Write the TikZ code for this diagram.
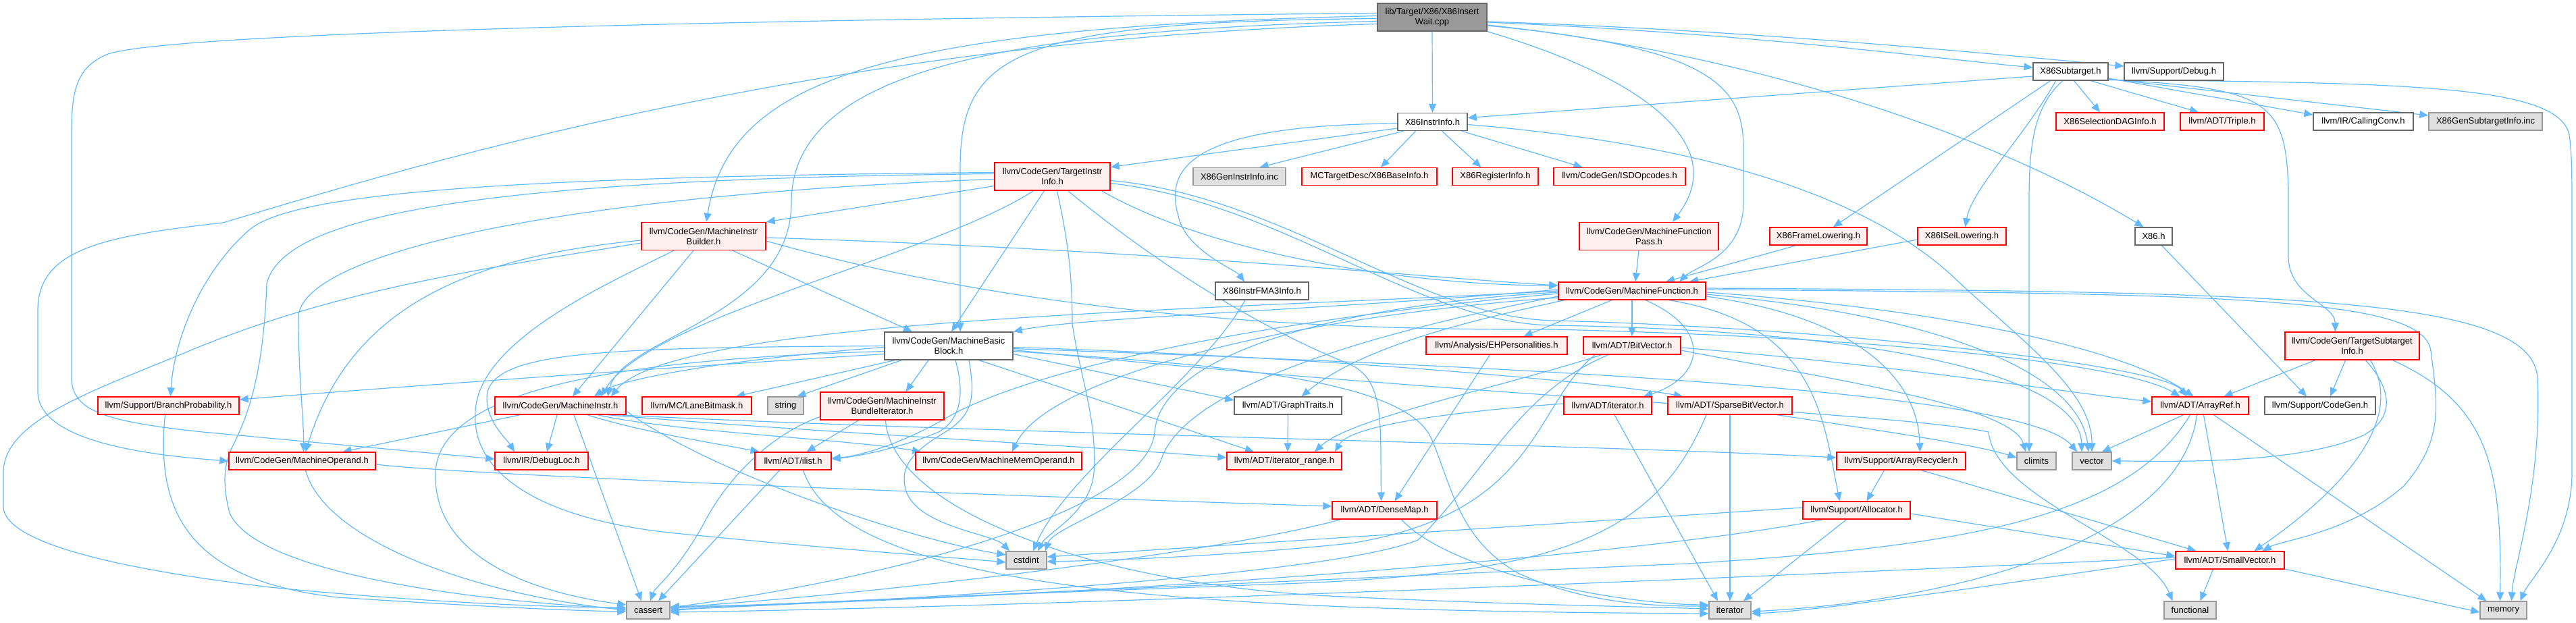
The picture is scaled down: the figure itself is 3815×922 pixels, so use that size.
\documentclass[tikz,border=0pt]{standalone}
\usepackage{fontspec}
\setmainfont{Liberation Sans}
\usetikzlibrary{arrows.meta}
\pgfdeclarelayer{bg}
\pgfsetlayers{bg,main}
\definecolor{edgeblue}{HTML}{63B8FF}
\definecolor{redborder}{HTML}{FF0000}
\definecolor{redfill}{HTML}{FFF0F0}
\definecolor{grayborder}{HTML}{999999}
\definecolor{grayfill}{HTML}{E0E0E0}
\definecolor{darkborder}{HTML}{666666}
\definecolor{rootfill}{HTML}{999999}
\tikzset{
  nd/.style={rectangle, minimum height=26pt, inner sep=0pt, align=center, font=\fontsize{13}{15}\selectfont, line width=1.4pt},
  two/.style={minimum height=41pt},
  bw/.style={minimum width=#1pt},
  nred/.style={nd, draw=redborder, fill=redfill},
  nwhite/.style={nd, draw=darkborder, fill=white},
  ngray/.style={nd, draw=grayborder, fill=grayfill},
  nroot/.style={nd, draw=darkborder, fill=rootfill},
  ed/.style={draw=edgeblue, line width=1.2pt, -{Triangle[length=13pt,width=11pt]}}
}
\begin{document}
\begin{tikzpicture}[x=1pt,y=1pt]
\useasboundingbox (0,0) rectangle (3815,-922);
% ---------------- nodes ----------------
\node[nroot,bw=162,two] (root) at (2121,-25.5) {lib/Target/X86/X86Insert\\Wait.cpp};
\node[nwhite,bw=111] (sub) at (3066.5,-106) {X86Subtarget.h};
\node[nwhite,bw=147] (dbg) at (3219.5,-106) {llvm/Support/Debug.h};
\node[nwhite,bw=103] (ii) at (2121.5,-180.5) {X86InstrInfo.h};
\node[nred,bw=171,two] (tii) at (1558.5,-261.5) {llvm/CodeGen/TargetInstr\\Info.h};
\node[ngray,bw=137] (geninc) at (1835.5,-261.5) {X86GenInstrInfo.inc};
\node[nred,bw=200] (base) at (2028,-261.5) {MCTargetDesc/X86BaseInfo.h};
\node[nred,bw=127] (reg) at (2214.5,-261.5) {X86RegisterInfo.h};
\node[nred,bw=195] (isd) at (2398.5,-261.5) {llvm/CodeGen/ISDOpcodes.h};
\node[nred,bw=160] (seldag) at (3125,-180) {X86SelectionDAGInfo.h};
\node[nred,bw=124] (triple) at (3291,-180) {llvm/ADT/Triple.h};
\node[nwhite,bw=148] (cc) at (3500,-180) {llvm/IR/CallingConv.h};
\node[ngray,bw=168] (gensub) at (3681,-180) {X86GenSubtargetInfo.inc};
\node[nred,bw=184,two] (mib) at (1042,-350) {llvm/CodeGen/MachineInstr\\Builder.h};
\node[nred,bw=206,two] (mfp) at (2442,-350) {llvm/CodeGen/MachineFunction\\Pass.h};
\node[nred,bw=144] (fl) at (2693,-350) {X86FrameLowering.h};
\node[nred,bw=131] (isel) at (2905.5,-350) {X86ISelLowering.h};
\node[nwhite,bw=55] (x86) at (3189.5,-350) {X86.h};
\node[nwhite,bw=138] (fma) at (1869,-431) {X86InstrFMA3Info.h};
\node[nred,bw=218] (mf) at (2417,-431) {llvm/CodeGen/MachineFunction.h};
\node[nwhite,bw=190,two] (mbb) at (1405,-512.5) {llvm/CodeGen/MachineBasic\\Block.h};
\node[nred,bw=209] (eh) at (2216.5,-512) {llvm/Analysis/EHPersonalities.h};
\node[nred,bw=144] (bv) at (2417,-512) {llvm/ADT/BitVector.h};
\node[nred,bw=199,two] (tsi) at (3483.5,-512.5) {llvm/CodeGen/TargetSubtarget\\Info.h};
\node[nred,bw=209] (bp) at (249.5,-601) {llvm/Support/BranchProbability.h};
\node[nred,bw=194] (mi) at (830,-601) {llvm/CodeGen/MachineInstr.h};
\node[nred,bw=162] (lane) at (1032,-601) {llvm/MC/LaneBitmask.h};
\node[ngray,bw=53] (str) at (1163.5,-601) {string};
\node[nred,bw=183,two] (mibi) at (1306.5,-601.5) {llvm/CodeGen/MachineInstr\\BundleIterator.h};
\node[nwhite,bw=159] (gt) at (1907.5,-601) {llvm/ADT/GraphTraits.h};
\node[nred,bw=130] (iterh) at (2381,-601) {llvm/ADT/iterator.h};
\node[nred,bw=184] (sbv) at (2562,-601) {llvm/ADT/SparseBitVector.h};
\node[nred,bw=143] (ar) at (3258.5,-601) {llvm/ADT/ArrayRef.h};
\node[nwhite,bw=164] (cg) at (3436,-601) {llvm/Support/CodeGen.h};
\node[nred,bw=217] (mo) at (447.5,-683) {llvm/CodeGen/MachineOperand.h};
\node[nred,bw=138] (dl) at (802,-683) {llvm/IR/DebugLoc.h};
\node[nred,bw=113] (ilist) at (1174.5,-683) {llvm/ADT/ilist.h};
\node[nred,bw=246] (mmo) at (1479,-683) {llvm/CodeGen/MachineMemOperand.h};
\node[nred,bw=170] (ir) at (1902,-683) {llvm/ADT/iterator\_range.h};
\node[nred,bw=191] (arec) at (2815.5,-683) {llvm/Support/ArrayRecycler.h};
\node[ngray,bw=58] (climits) at (3016,-683) {climits};
\node[ngray,bw=58] (vector) at (3098,-683) {vector};
\node[nred,bw=155] (dm) at (2050.5,-756) {llvm/ADT/DenseMap.h};
\node[nred,bw=159] (alloc) at (2749.5,-756) {llvm/Support/Allocator.h};
\node[ngray,bw=60] (cstdint) at (1520,-830) {cstdint};
\node[nred,bw=161] (sv) at (3302.5,-830) {llvm/ADT/SmallVector.h};
\node[ngray,bw=64] (cassert) at (960,-904) {cassert};
\node[ngray,bw=62] (iterator) at (2562,-904) {iterator};
\node[ngray,bw=77] (functional) at (3243.5,-904) {functional};
\node[ngray,bw=69] (memory) at (3707.5,-904) {memory};
% ---------------- edges ----------------
\begin{pgfonlayer}{bg}
% root
\draw[ed] (root.south) -- (ii.north);
\draw[ed] ([yshift=-2pt]root.west) .. controls (1500,-32) and (1422,-80) .. (1422,-250) -- ([xshift=17pt]mbb.north);
\draw[ed] ([yshift=-6pt]root.west) .. controls (1500,-45) and (1172,-100) .. (1172,-300) .. controls (1172,-470) and (920,-500) .. ([xshift=70pt]mi.north);
\draw[ed] ([yshift=2pt]root.west) .. controls (1300,-40) and (1080,-120) .. ([xshift=4pt]mib.north);
\draw[ed] ([yshift=-10pt]root.west) .. controls (1200,-60) and (600,-250) .. (330,-330) .. controls (150,-350) and (56,-370) .. (56,-460) -- (56,-580) .. controls (56,-650) and (200,-673) .. (mo.west);
\draw[ed] ([yshift=6pt]root.west) .. controls (1000,-30) and (250,-50) .. (160,-80) .. controls (110,-100) and (106,-140) .. (106,-200) -- (106,-560) .. controls (106,-610) and (160,-625) .. (300,-640) -- ([yshift=3pt]dl.west);
\draw[ed] ([yshift=-6.5pt]root.east) .. controls (2600,-45) and (2950,-80) .. ([yshift=8pt]dbg.west);
\draw[ed] ([yshift=-7.5pt]root.east) .. controls (2600,-50) and (2850,-85) .. ([yshift=6pt]sub.west);
\draw[ed] ([yshift=-11.5pt]root.east) .. controls (2600,-80) and (2950,-200) .. ([xshift=-15pt]x86.north);
\draw[ed] ([yshift=-12.5pt]root.east) .. controls (2540,-70) and (2582,-130) .. (2582,-220) -- (2582,-300) .. controls (2582,-380) and (2510,-395) .. ([xshift=70pt]mf.north);
\draw[ed] (root.south east) .. controls (2450,-120) and (2560,-220) .. ([xshift=35pt]mfp.north);
% X86InstrInfo
\draw[ed] ([yshift=-9.5pt]ii.west) -- ([yshift=14pt]tii.east);
\draw[ed] ([xshift=-43pt]ii.south) -- ([xshift=30pt]geninc.north);
\draw[ed] ([yshift=-2.5pt]ii.west) .. controls (1760,-185) and (1725,-250) .. (1745,-320) .. controls (1755,-370) and (1830,-400) .. ([xshift=-26pt]fma.north);
\draw[ed] ([xshift=-25pt]ii.south) -- ([xshift=17pt]base.north);
\draw[ed] ([xshift=14pt]ii.south) -- ([xshift=-21pt]reg.north);
\draw[ed] ([xshift=43pt]ii.south) -- ([xshift=-55pt]isd.north);
\draw[ed] ([yshift=-4pt]ii.east) .. controls (2600,-220) and (2800,-320) .. (2900,-417) .. controls (3000,-510) and (3098,-580) .. (vector.north);
% X86Subtarget
\draw[ed] ([yshift=-7pt]sub.west) -- ([yshift=6pt]ii.east);
\draw[ed] ([xshift=-30pt]sub.south) -- ([xshift=22pt]fl.north);
\draw[ed] ([xshift=-22pt]sub.south) .. controls (3000,-200) and (2920,-280) .. ([xshift=5pt]isel.north);
\draw[ed] ([xshift=-12pt]sub.south) .. controls (3010,-160) and (3005,-220) .. (3005,-300) -- ([xshift=-11pt]climits.north);
\draw[ed] ([xshift=5pt]sub.south) -- ([xshift=-15pt]seldag.north);
\draw[ed] ([xshift=30pt]sub.south) -- ([xshift=-35pt]triple.north);
\draw[ed] ([yshift=-10pt]sub.east) -- ([yshift=10pt]cc.west);
\draw[ed] ([yshift=-11pt]sub.east) -- ([yshift=9pt]gensub.west);
\draw[ed] ([yshift=-12pt]sub.east) .. controls (3360,-130) and (3385,-150) .. (3389,-280) -- (3389,-380) .. controls (3389,-440) and (3458,-450) .. ([xshift=-25pt]tsi.north);
\draw[ed] ([yshift=-12.5pt]sub.east) .. controls (3600,-122) and (3790,-130) .. (3805,-200) .. controls (3809,-230) and (3809,-260) .. (3809,-320) -- (3809,-700) .. controls (3809,-800) and (3745,-860) .. ([xshift=25pt]memory.north);
% TargetInstrInfo
\draw[ed] ([yshift=-14pt]tii.west) -- (mib.north east);
\draw[ed] ([yshift=6pt]tii.west) .. controls (700,-262) and (430,-290) .. (370,-340) .. controls (300,-400) and (258,-500) .. ([xshift=3pt]bp.north);
\draw[ed] ([yshift=4pt]tii.west) .. controls (700,-265) and (420,-320) .. (395,-420) .. controls (390,-560) and (365,-620) .. (345,-660) .. controls (330,-690) and (330,-720) .. (340,-760) .. controls (380,-850) and (700,-890) .. ([yshift=2pt]cassert.west);
\draw[ed] ([yshift=-4pt]tii.west) .. controls (800,-290) and (444,-380) .. (442,-470) .. controls (442,-560) and (450,-620) .. ([xshift=2pt]mo.north);
\draw[ed] ([xshift=-28pt]tii.south) .. controls (1380,-380) and (960,-470) .. ([xshift=60pt]mi.north);
\draw[ed] ([xshift=-12pt]tii.south) -- ([xshift=4pt]mbb.north);
\draw[ed] ([xshift=7pt]tii.south) .. controls (1580,-350) and (1588,-400) .. (1588,-480) .. controls (1600,-560) and (1625,-620) .. (1620,-700) .. controls (1615,-760) and (1550,-790) .. ([xshift=17pt]cstdint.north);
\draw[ed] ([xshift=23pt]tii.south) .. controls (1700,-380) and (1850,-480) .. (2000,-540) .. controls (2040,-560) and (2045,-600) .. (2045,-680) -- ([xshift=-5pt]dm.north);
\draw[ed] ([xshift=73pt]tii.south) .. controls (1800,-380) and (2100,-423) .. ([yshift=8pt]mf.west);
\draw[ed] ([yshift=-6pt]tii.east) .. controls (1900,-290) and (2100,-470) .. (2300,-475) .. controls (2700,-485) and (3200,-540) .. ([xshift=-20pt]ar.north);
\draw[ed] ([yshift=-10pt]tii.east) .. controls (1900,-300) and (2100,-480) .. (2300,-482) .. controls (2800,-490) and (3080,-560) .. ([xshift=-15pt]vector.north);
% MachineInstrBuilder
\draw[ed] ([yshift=-6pt]mib.west) .. controls (700,-380) and (520,-450) .. ([xshift=5pt]mo.north);
\draw[ed] ([yshift=-10pt]mib.west) .. controls (700,-400) and (500,-430) .. (287,-517) .. controls (150,-575) and (5,-620) .. (5,-700) -- (5,-750) .. controls (5,-800) and (150,-840) .. (400,-870) .. controls (600,-890) and (800,-900) .. ([yshift=4pt]cassert.west);
\draw[ed] ([xshift=-15pt]mib.south) -- ([xshift=18pt]mi.north);
\draw[ed] ([xshift=-44pt]mib.south) .. controls (900,-420) and (720,-500) .. (705,-600) .. controls (690,-700) and (800,-770) .. (1000,-790) .. controls (1250,-815) and (1400,-825) .. ([yshift=-3pt]cstdint.west);
\draw[ed] ([xshift=43pt]mib.south) -- ([xshift=-54pt]mbb.north);
\draw[ed] ([yshift=-2pt]mib.east) .. controls (1700,-370) and (2100,-410) .. ([yshift=8pt]mf.west);
\draw[ed] ([yshift=-7pt]mib.east) .. controls (1500,-460) and (1900,-490) .. (2300,-488) .. controls (2800,-500) and (3150,-540) .. ([xshift=-30pt]ar.north);
% single ones
\draw[ed] ([xshift=-15pt]mfp.south) -- ([xshift=5pt]mf.north);
\draw[ed] ([xshift=-33pt]fl.south) -- ([xshift=50pt]mf.north);
\draw[ed] ([yshift=-5pt]isel.west) -- ([xshift=85pt]mf.north);
\draw[ed] ([xshift=12pt]x86.south) -- ([xshift=-20pt]cg.north);
\draw[ed] ([xshift=-25pt]fma.south) .. controls (1780,-560) and (1580,-700) .. ([xshift=10pt]cstdint.north);
% MachineFunction
\draw[ed] ([yshift=2pt]mf.west) .. controls (1950,-460) and (1600,-470) .. (mbb.north east);
\draw[ed] (mf.west) .. controls (1800,-460) and (1000,-470) .. ([xshift=75pt]mi.north);
\draw[ed] ([yshift=-2pt]mf.west) .. controls (2000,-450) and (1720,-520) .. (1710,-640) .. controls (1700,-760) and (1300,-860) .. ([yshift=4pt]cassert.east);
\draw[ed] ([yshift=-4pt]mf.west) .. controls (1800,-480) and (1500,-560) .. (1400,-620) .. controls (1330,-660) and (1270,-676) .. ([yshift=4pt]ilist.east);
\draw[ed] ([yshift=-10pt]mf.west) .. controls (1900,-470) and (1550,-560) .. ([xshift=20pt]mmo.north);
\draw[ed] ([xshift=-100pt]mf.south) .. controls (2200,-470) and (2020,-510) .. ([xshift=20pt]gt.north);
\draw[ed] ([yshift=-8pt]mf.west) .. controls (2100,-480) and (1760,-560) .. (1720,-680) .. controls (1700,-740) and (1560,-780) .. ([xshift=28pt]cstdint.north);
\draw[ed] ([xshift=-30pt]mf.south) -- ([xshift=40pt]eh.north);
\draw[ed] (mf.south) -- (bv.north);
\draw[ed] ([xshift=20pt]mf.south) .. controls (2540,-490) and (2520,-560) .. ([xshift=53pt]iterh.north);
\draw[ed] ([xshift=55pt]mf.south) .. controls (2690,-480) and (2700,-620) .. ([xshift=-25pt]alloc.north);
\draw[ed] ([yshift=-8pt]mf.east) .. controls (2750,-470) and (2840,-560) .. ([xshift=28pt]arec.north);
\draw[ed] ([yshift=2pt]mf.east) .. controls (3300,-435) and (3590,-440) .. (3600,-520) .. controls (3610,-600) and (3620,-650) .. (3560,-720) .. controls (3480,-790) and (3380,-800) .. ([xshift=48pt]sv.north);
\draw[ed] ([yshift=-2pt]mf.east) .. controls (2900,-460) and (3150,-520) .. ([xshift=-10pt]ar.north);
\draw[ed] ([yshift=-5pt]mf.east) .. controls (2900,-470) and (3080,-560) .. ([xshift=-5pt]vector.north);
\draw[ed] ([yshift=4pt]mf.east) .. controls (3400,-432) and (3750,-440) .. (3758,-560) .. controls (3765,-720) and (3722,-840) .. ([xshift=12pt]memory.north);
% MachineBasicBlock
\draw[ed] ([yshift=-2pt]mbb.west) .. controls (1100,-530) and (920,-560) .. ([xshift=50pt]mi.north);
\draw[ed] ([yshift=-12pt]mbb.west) .. controls (900,-550) and (500,-580) .. ([yshift=9pt]bp.east);
\draw[ed] (mbb.west) .. controls (900,-515) and (740,-520) .. (722,-580) .. controls (715,-620) and (750,-650) .. ([xshift=-40pt]dl.north);
\draw[ed] ([yshift=-8pt]mbb.west) .. controls (1000,-530) and (650,-560) .. (645,-700) .. controls (640,-830) and (800,-880) .. ([yshift=8pt]cassert.west);
\draw[ed] ([xshift=-80pt]mbb.south) -- ([xshift=58pt]lane.north);
\draw[ed] ([xshift=-70pt]mbb.south) -- ([xshift=17pt]str.north);
\draw[ed] ([xshift=-30pt]mbb.south) -- ([xshift=35pt]mibi.north);
\draw[ed] ([xshift=10pt]mbb.south) .. controls (1428,-580) and (1425,-620) .. (1390,-640) .. controls (1330,-665) and (1270,-676) .. ([yshift=3pt]ilist.east);
\draw[ed] ([xshift=30pt]mbb.south) .. controls (1445,-590) and (1440,-615) .. (1400,-640) .. controls (1350,-670) and (1335,-690) .. (1340,-720) .. controls (1350,-780) and (1470,-790) .. ([xshift=-25pt]cstdint.north);
\draw[ed] ([xshift=45pt]mbb.south) -- ([xshift=-45pt]ir.north);
\draw[ed] ([yshift=-12pt]mbb.east) -- ([yshift=8pt]gt.west);
\draw[ed] ([yshift=-2pt]mbb.east) .. controls (2000,-530) and (2400,-570) .. ([xshift=-70pt]sbv.north);
\draw[ed] ([yshift=-4pt]mbb.east) .. controls (2300,-545) and (3000,-580) .. ([xshift=-22pt]vector.north);
\draw[ed] ([yshift=-6pt]mbb.east) .. controls (2200,-590) and (2800,-610) .. (2945,-640) .. controls (2955,-740) and (3180,-800) .. ([xshift=-26pt]functional.north);
\draw[ed] ([yshift=-8pt]mbb.east) .. controls (1800,-540) and (2080,-560) .. (2120,-650) .. controls (2150,-720) and (2160,-800) .. (2250,-850) .. controls (2350,-895) and (2450,-898) .. ([yshift=6pt]iterator.west);
% MachineInstr
\draw[ed] ([xshift=-60pt]mi.south) -- ([xshift=60pt]mo.north);
\draw[ed] ([xshift=-5pt]mi.south) -- ([xshift=8pt]dl.north);
\draw[ed] ([xshift=20pt]mi.south) -- ([xshift=-10pt]cassert.north);
\draw[ed] ([xshift=40pt]mi.south) .. controls (950,-640) and (1050,-655) .. ([xshift=-50pt]ilist.north);
\draw[ed] ([xshift=55pt]mi.south) .. controls (1000,-640) and (1250,-650) .. ([xshift=-115pt]mmo.north);
\draw[ed] ([xshift=70pt]mi.south) .. controls (1200,-640) and (1600,-660) .. ([yshift=5pt]ir.west);
\draw[ed] ([xshift=85pt]mi.south) .. controls (1400,-640) and (2400,-660) .. ([yshift=5pt]arec.west);
\draw[ed] ([yshift=-8pt]mi.east) .. controls (1050,-700) and (1350,-800) .. ([yshift=8pt]cstdint.west);
% MachineOperand
\draw[ed] ([xshift=5pt]mo.south) .. controls (480,-800) and (700,-880) .. (cassert.west);
\draw[ed] ([yshift=-5pt]mo.east) .. controls (700,-705) and (1500,-735) .. ([yshift=6pt]dm.west);
% MachineInstrBundleIterator
\draw[ed] ([yshift=-16pt]mibi.west) .. controls (1150,-640) and (1080,-700) .. (1040,-780) .. controls (1000,-850) and (970,-870) .. ([xshift=3pt]cassert.north);
\draw[ed] ([xshift=-35pt]mibi.south) -- ([xshift=20pt]ilist.north);
\draw[ed] ([xshift=5pt]mibi.south) .. controls (1320,-750) and (1600,-860) .. (1950,-882) .. controls (2200,-895) and (2400,-898) .. ([yshift=2pt]iterator.west);
% GraphTraits, iterator.h
\draw[ed] (gt.south) -- ([xshift=5pt]ir.north);
\draw[ed] ([yshift=3pt]iterh.west) .. controls (2150,-610) and (2000,-630) .. ([xshift=75pt]ir.north);
\draw[ed] ([xshift=10pt]iterh.south) -- ([xshift=-18pt]iterator.north);
% SparseBitVector
\draw[ed] ([xshift=-35pt]sbv.south) .. controls (2450,-800) and (2300,-850) .. (1900,-865) .. controls (1500,-880) and (1100,-895) .. ([yshift=-1pt]cassert.east);
\draw[ed] (sbv.south) -- (iterator.north);
\draw[ed] ([xshift=70pt]sbv.south) .. controls (2800,-640) and (2930,-660) .. ([yshift=5pt]climits.west);
% BitVector
\draw[ed] ([xshift=-45pt]bv.south) .. controls (2200,-580) and (2000,-620) .. ([xshift=45pt]ir.north);
\draw[ed] ([xshift=-35pt]bv.south) .. controls (2250,-580) and (2200,-700) .. (2100,-800) .. controls (1950,-860) and (1200,-895) .. ([yshift=1pt]cassert.east);
\draw[ed] ([xshift=-55pt]bv.south) .. controls (2270,-600) and (2280,-760) .. (2000,-805) .. controls (1800,-825) and (1650,-830) .. ([yshift=-2pt]cstdint.east);
\draw[ed] ([yshift=-7pt]bv.east) .. controls (2700,-560) and (2980,-600) .. ([xshift=-16pt]climits.north);
\draw[ed] ([yshift=-3pt]bv.east) .. controls (2800,-540) and (3050,-580) .. ([yshift=6pt]ar.west);
\draw[ed] ([xshift=-10pt]eh.south) -- ([xshift=15pt]dm.north);
% ArrayRef
\draw[ed] ([xshift=-25pt]ar.south) -- ([xshift=15pt]vector.north);
\draw[ed] ([xshift=-15pt]ar.south) .. controls (3150,-770) and (2900,-810) .. (2500,-835) .. controls (1800,-865) and (1300,-890) .. ([yshift=3pt]cassert.east);
\draw[ed] ([xshift=-5pt]ar.south) .. controls (3230,-800) and (2900,-890) .. ([yshift=-2pt]iterator.east);
\draw[ed] ([xshift=5pt]ar.south) -- ([xshift=-3pt]sv.north);
\draw[ed] ([xshift=20pt]ar.south) -- ([xshift=-25pt]memory.north);
% TargetSubtargetInfo
\draw[ed] ([xshift=-55pt]tsi.south) -- ([xshift=35pt]ar.north);
\draw[ed] ([xshift=-10pt]tsi.south) -- ([xshift=15pt]cg.north);
\draw[ed] ([xshift=20pt]tsi.south) .. controls (3545,-580) and (3545,-620) .. (3500,-645) .. controls (3400,-690) and (3200,-683) .. (vector.east);
\draw[ed] ([xshift=27pt]tsi.south) .. controls (3575,-640) and (3420,-760) .. ([xshift=36pt]sv.north);
\draw[ed] ([xshift=60pt]tsi.south) .. controls (3690,-600) and (3705,-700) .. ([xshift=-5pt]memory.north);
% ArrayRecycler, Allocator
\draw[ed] ([xshift=-25pt]arec.south) -- ([xshift=15pt]alloc.north);
\draw[ed] ([xshift=30pt]arec.south) -- ([xshift=-50pt]sv.north);
\draw[ed] ([yshift=-5pt]alloc.east) -- ([yshift=6pt]sv.west);
\draw[ed] ([yshift=4pt]alloc.west) -- ([yshift=5pt]cstdint.east);
\draw[ed] ([xshift=-50pt]alloc.south) .. controls (2400,-830) and (1500,-890) .. ([yshift=5pt]cassert.east);
\draw[ed] ([xshift=-15pt]alloc.south) -- ([xshift=20pt]iterator.north);
% DenseMap, ilist
\draw[ed] ([xshift=-65pt]dm.south) .. controls (1800,-820) and (1300,-880) .. ([yshift=4pt]cassert.east);
\draw[ed] ([xshift=25pt]dm.south) .. controls (2150,-850) and (2400,-895) .. ([yshift=8pt]iterator.west);
\draw[ed] ([xshift=-20pt]ilist.south) -- ([xshift=15pt]cassert.north);
\draw[ed] ([xshift=15pt]ilist.south) .. controls (1250,-880) and (1800,-905) .. ([yshift=-5pt]iterator.west);
% SmallVector
\draw[ed] ([yshift=4pt]sv.west) .. controls (2500,-860) and (1500,-900) .. ([yshift=-3pt]cassert.east);
\draw[ed] ([yshift=2pt]sv.west) .. controls (3000,-860) and (2700,-905) .. ([yshift=-5pt]iterator.east);
\draw[ed] ([xshift=-25pt]sv.south) -- ([xshift=15pt]functional.north);
\draw[ed] ([yshift=-13pt]sv.east) -- ([yshift=-3pt]memory.west);
% BranchProbability
\draw[ed] ([xshift=-5pt]bp.south) .. controls (230,-760) and (280,-860) .. (500,-885) .. controls (700,-898) and (850,-905) .. ([yshift=-2pt]cassert.west);
\end{pgfonlayer}
\end{tikzpicture}
\end{document}
